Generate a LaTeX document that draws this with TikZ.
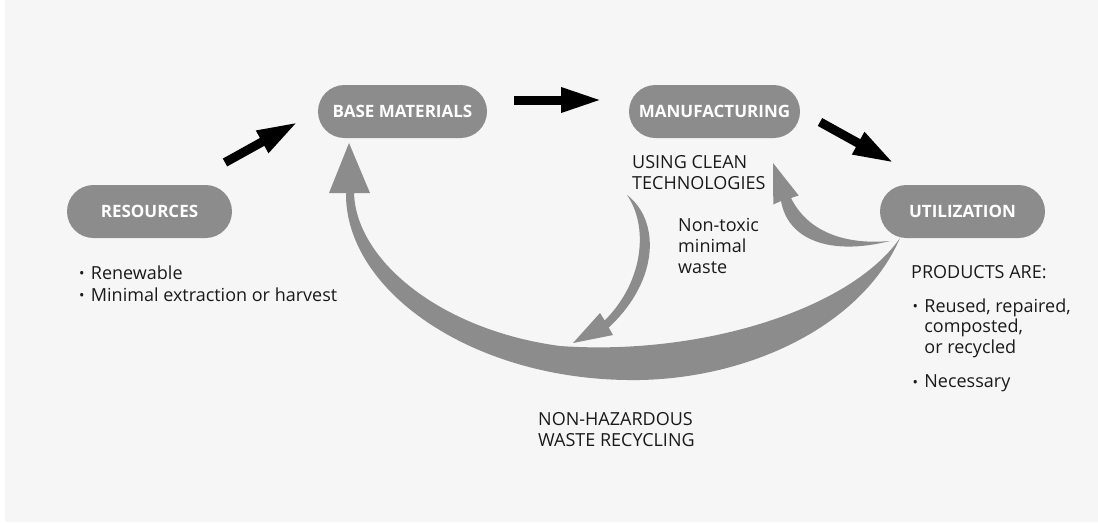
\documentclass[tikz,border=0pt]{standalone}
\usepackage{fontspec}
\setmainfont{Open Sans}
\usetikzlibrary{arrows.meta}
\definecolor{bg}{HTML}{F6F6F6}
\definecolor{pill}{HTML}{8C8C8C}
\definecolor{ink}{HTML}{1A1A1A}
\tikzset{
  pillbox/.style={fill=pill, rounded corners=26.5pt, minimum height=53pt,
    text=white, font=\fontsize{17}{20}\selectfont\bfseries, inner sep=0pt},
  txt/.style={text=ink, inner sep=0pt, anchor=base west},
  blackarrow/.style={draw=black, line width=9pt, -{Triangle[length=41pt,width=23pt]}},
  ribbon/.style={fill=pill, draw=none}
}
\newcommand{\bul}{\makebox[11.7pt][l]{\fontsize{14.5}{12}\selectfont\raisebox{0.3pt}{•}}}
\begin{document}
\begin{tikzpicture}[x=1pt,y=-1pt]
\useasboundingbox (0,0) rectangle (1098,523);
\fill[bg] (5,0) rectangle (1098,522);

% pills
\node[pillbox, minimum width=165pt] (res) at (149.5,211.5) {RESOURCES};
\node[pillbox, minimum width=169pt] (base) at (402.5,111.5) {BASE MATERIALS};
\node[pillbox, minimum width=171pt] (man) at (714.5,111.5) {MANUFACTURING};
\node[pillbox, minimum width=165pt] (util) at (962.5,211.5) {UTILIZATION};

% texts
\node[txt] (resnote) at (79,279) {\fontsize{18}{22}\selectfont
  \begin{tabular}[t]{@{}l@{}}\bul Renewable\\ \bul Minimal extraction or harvest\end{tabular}};
\node[txt] (clean) at (632,168) {\fontsize{18}{21}\selectfont
  \begin{tabular}[t]{@{}l@{}}USING CLEAN\\TECHNOLOGIES\end{tabular}};
\node[txt] (nontox) at (678,231) {\fontsize{18}{21}\selectfont
  \begin{tabular}[t]{@{}l@{}}Non-toxic\\minimal\\waste\end{tabular}};
\node[txt] (nonhaz) at (538,425) {\fontsize{18}{21}\selectfont
  \begin{tabular}[t]{@{}l@{}}NON-HAZARDOUS\\WASTE RECYCLING\end{tabular}};
\node[txt] (prod) at (911,278) {\fontsize{18}{21}\selectfont PRODUCTS ARE:};
\node[txt] (prodlist) at (912.5,312) {\fontsize{18}{20.7}\selectfont
  \begin{tabular}[t]{@{}l@{}l@{}}\bul&Reused, repaired,\\ &composted,\\ &or recycled\\[13.5pt]\bul&Necessary\end{tabular}};

% black arrows
\coordinate (a1s) at (225,162.5); \coordinate (a1e) at (298,122);
\coordinate (a2s) at (514,100);   \coordinate (a2e) at (602,100);
\coordinate (a3s) at (820,122);   \coordinate (a3e) at (894,163);
\draw[blackarrow] (a1s) -- (a1e);
\draw[blackarrow] (a2s) -- (a2e);
\draw[blackarrow] (a3s) -- (a3e);

% big recycling ribbon: utilization -> base materials
\fill[ribbon] (346,193) -- (329,193) -- (349,143) -- (370,193) -- (354,193)
  .. controls (356,260) and (440,330) .. (560,346)
  .. controls (700,356) and (850,310) .. (900,238)
  .. controls (860,330) and (740,382) .. (627,380)
  .. controls (470,378) and (345,290) .. (346,193) -- cycle;

% return ribbon: utilization -> manufacturing
\fill[ribbon] (890,241)
  .. controls (845,245) and (808,232) .. (791,198)
  -- (798.7,195.5) -- (773,163) -- (773.3,204.5) -- (781,201)
  .. controls (788,240) and (830,256) .. (890,241) -- cycle;

% waste ribbon: manufacturing -> recycling loop
\fill[ribbon] (627,195)
  .. controls (660,220) and (660,280) .. (608.7,327.5)
  -- (613,335) -- (573,343) -- (600,313) -- (604.7,320.5)
  .. controls (645,280) and (648,225) .. (627,195) -- cycle;
\end{tikzpicture}
\end{document}
